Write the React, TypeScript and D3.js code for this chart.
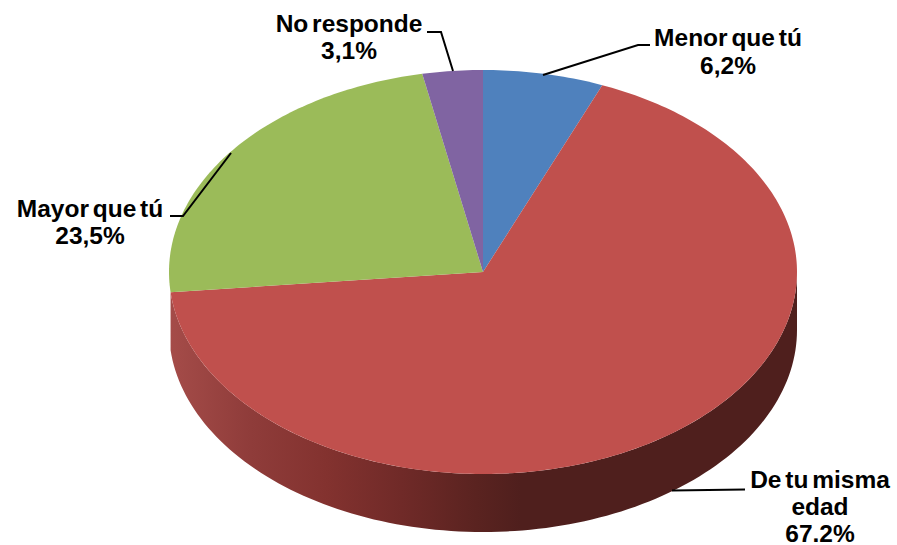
import React from "react";
import * as d3 from "d3";

const W = 897, H = 545;
const categories = ["Menor que tú", "De tu misma edad", "Mayor que tú", "No responde"];
const values = [6.2, 67.2, 23.5, 3.1];
const valueLabels = ["6,2%", "67.2%", "23,5%", "3,1%"];
const colors = ["#4f81bd", "#c0504d", "#9bbb59", "#8064a2"];
const labelLines = [["Menor que tú", "6,2%"], ["De tu misma", "edad", "67.2%"], ["Mayor que tú", "23,5%"], ["No responde", "3,1%"]];

const cx = 483, cy = 272, rx = 314, ry = 202, depth = 58;
const px = d3.scaleLinear().domain([-1, 1]).range([cx - rx, cx + rx]);
const py = d3.scaleLinear().domain([-1, 1]).range([cy - ry, cy + ry]);

const labelLayout = [
  { x: 728, y: 46, lh: 27.5, leader: [[543, 75], [638, 45], [650, 45]] as [number, number][] },
  { x: 820, y: 488, lh: 27, leader: [[672, 490.5], [745, 489.5]] as [number, number][] },
  { x: 90, y: 217, lh: 27, leader: [[231, 153], [183, 216], [170, 216]] as [number, number][] },
  { x: 349, y: 32, lh: 27, leader: [[453, 71], [441, 32], [427, 32]] as [number, number][] },
];

const wallStops: [number, string][] = [
  [0, "#a54c49"], [0.13, "#8f3c3a"], [0.25, "#83322f"], [0.37, "#702a28"], [0.49, "#5a2320"], [0.56, "#4f1f1d"], [1, "#4f1f1d"],
];

export default function App() {
  const slices = d3.pie<number>().sort(null).value((d) => d)(values);
  const line = d3.line();
  const pt = (a: number, dy = 0): [number, number] => [px(Math.sin(a)), py(-Math.cos(a)) + dy];
  const sector = (s: d3.PieArcDatum<number>) => {
    const n = Math.max(4, Math.ceil((s.endAngle - s.startAngle) * 60));
    const pts = d3.range(n + 1).map((i) => pt(s.startAngle + ((s.endAngle - s.startAngle) * i) / n));
    return line([[cx, cy], ...pts]) + "Z";
  };
  const red = slices[1];
  const a0 = Math.PI / 2, a1 = red.endAngle;
  const steps = d3.range(121).map((i) => a0 + ((a1 - a0) * i) / 120);
  const wall = line([...steps.map((a) => pt(a)), ...steps.slice().reverse().map((a) => pt(a, depth))]) + "Z";

  return (
    <svg width={W} height={H} viewBox={`0 0 ${W} ${H}`} style={{ position: "absolute", left: 0, top: 0, background: "#fff" }}>
      <defs>
        <linearGradient id="wall" gradientUnits="userSpaceOnUse" x1={cx - rx} x2={cx + rx} y1={0} y2={0}>
          {wallStops.map(([o, c]) => <stop key={o} offset={o} stopColor={c} />)}
        </linearGradient>
      </defs>
      <path d={wall} fill="url(#wall)" />
      {slices.map((s, i) => <path key={categories[i]} d={sector(s)} fill={colors[i]} />)}
      {labelLayout.map((l, i) => (
        <g key={valueLabels[i]}>
          <path d={line(l.leader) ?? ""} fill="none" stroke="#000" strokeWidth={2} />
          <text textAnchor="middle" fontFamily="'Liberation Sans', Arial, sans-serif" fontWeight={700} fontSize={24.5} wordSpacing={-3} fill="#000">
            {labelLines[i].map((t, j) => <tspan key={t} x={l.x} y={l.y + j * l.lh}>{t}</tspan>)}
          </text>
        </g>
      ))}
    </svg>
  );
}
